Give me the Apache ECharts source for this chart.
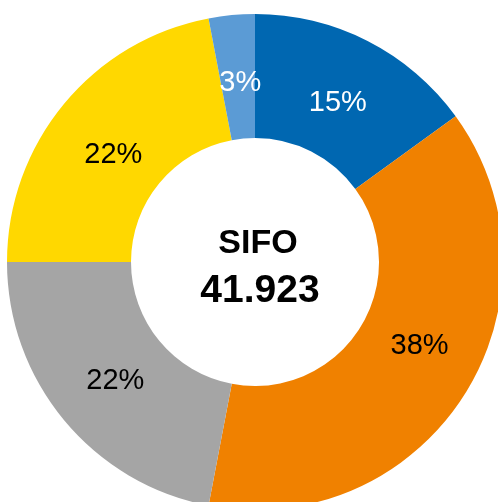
<!DOCTYPE html>
<html>
<head>
<meta charset="utf-8">
<script src="https://cdn.jsdelivr.net/npm/echarts@6/dist/echarts.min.js"></script>
<style>
html,body{margin:0;padding:0;background:#fff;}
#chart{width:498px;height:502px;}
</style>
</head>
<body>
<div id="chart"></div>
<script>
var categories = ['Blau', 'Orange', 'Grau', 'Gelb', 'Hellblau'];
var values = [15, 38, 22, 22, 3];
var colors = ['#0067b1', '#f08100', '#a5a5a5', '#ffd800', '#5b9bd5'];
var labelColors = ['#ffffff', '#000000', '#000000', '#000000', '#ffffff'];
var labelOffsets = [[-3, 9], [5, -17], [6, -1], [4, 13], [3, 9]];
var centerTitle = 'SIFO';
var centerValue = '41.923';

var chart = echarts.init(document.getElementById('chart'), null, {renderer: 'canvas'});
var data = categories.map(function (c, i) {
  return {
    name: c,
    value: values[i],
    itemStyle: {color: colors[i]},
    label: {color: labelColors[i], offset: labelOffsets[i]}
  };
});
chart.setOption({
  animation: false,
  backgroundColor: '#ffffff',
  series: [{
    type: 'pie',
    center: [255, 262],
    radius: [124, 248],
    startAngle: 90,
    clockwise: true,
    avoidLabelOverlap: false,
    label: {
      show: true,
      position: 'inside',
      formatter: '{c}%',
      fontFamily: 'Liberation Sans, Arial, sans-serif',
      fontSize: 29,
      fontWeight: 'normal'
    },
    labelLine: {show: false},
    emphasis: {disabled: true},
    data: data
  }],
  graphic: [{
    type: 'group',
    children: [{
      type: 'text',
      x: 258,
      y: 244,
      style: {
        text: centerTitle,
        fill: '#000',
        font: 'bold 34px "Liberation Sans", Arial, sans-serif',
        textAlign: 'center',
        textVerticalAlign: 'middle'
      }
    }, {
      type: 'text',
      x: 260,
      y: 291,
      style: {
        text: centerValue,
        fill: '#000',
        font: 'bold 39px "Liberation Sans", Arial, sans-serif',
        textAlign: 'center',
        textVerticalAlign: 'middle'
      }
    }]
  }]
});
</script>
</body>
</html>
